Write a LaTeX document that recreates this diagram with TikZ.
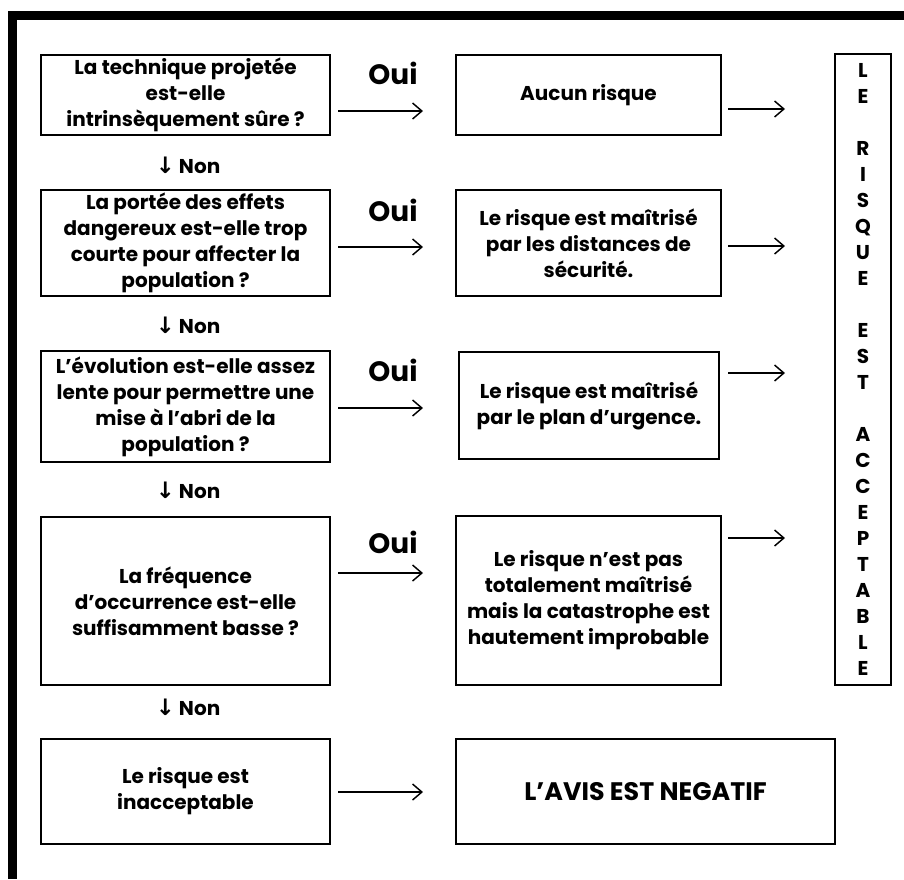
\documentclass[tikz,border=0pt]{standalone}
\usepackage{fontspec}
\setmainfont{Poppins}
\newfontfamily\arrowfont{DejaVu Sans}
\usetikzlibrary{arrows.meta}

\begin{document}
\begin{tikzpicture}[x=0.75pt, y=-0.75pt, >={Straight Barb[length=7pt,width=12pt]},
    box/.style={draw, line width=1pt, align=center, inner sep=0pt, font=\fontsize{15}{19.5}\selectfont\bfseries},
    oui/.style={font=\fontsize{21}{25}\selectfont\bfseries},
    non/.style={font=\fontsize{15}{18}\selectfont\bfseries},
    fl/.style={->, line width=1.1pt}]
    \useasboundingbox (0,0) rectangle (904,879);
    % cadre epais
    \fill (8,11) rectangle (904,20);
    \fill (8,11) rectangle (17,879);

    % questions
    \node[box, minimum width=216.75pt, minimum height=60pt] (q1) at (185.5,95) {La technique projetée\\est-elle\\intrinsèquement sûre ?};
    \node[box, minimum width=216.75pt, minimum height=79.5pt] (q2) at (185.5,243) {La portée des effets\\dangereux est-elle trop\\courte pour affecter la\\population ?};
    \node[box, minimum width=216.75pt, minimum height=83.25pt] (q3) at (185.5,406.5) {L’évolution est-elle assez\\lente pour permettre une\\mise à l’abri de la\\population ?};
    \node[box, minimum width=216.75pt, minimum height=126pt] (q4) at (185.5,601) {La fréquence\\d’occurrence est-elle\\suffisamment basse ?};
    \node[box, minimum width=216.75pt, minimum height=78.75pt] (q5) at (185.5,791.5) {Le risque est\\inacceptable};

    % reponses
    \node[box, minimum width=198.75pt, minimum height=60pt] (m1) at (588.5,95) {Aucun risque};
    \node[box, minimum width=198.75pt, minimum height=79.5pt] (m2) at (588.5,243) {Le risque est maîtrisé\\par les distances de\\sécurité.};
    \node[box, minimum width=195pt, minimum height=80.25pt] (m3) at (589,405.5) {Le risque est maîtrisé\\par le plan d’urgence.};
    \node[box, minimum width=198.75pt, minimum height=126.75pt] (m4) at (588.5,600.5) {Le risque n’est pas\\totalement maîtrisé\\mais la catastrophe est\\hautement improbable};
    \node[box, minimum width=284.25pt, minimum height=78.75pt, font=\fontsize{19}{23}\selectfont\bfseries] (avis) at (645.5,791.5) {L’AVIS EST NEGATIF};

    % colonne verticale
    \node[box, minimum width=42pt, minimum height=473.25pt] (acc) at (863,369.5) {L\\E\\~\\R\\I\\S\\Q\\U\\E\\~\\E\\S\\T\\~\\A\\C\\C\\E\\P\\T\\A\\B\\L\\E};

    % etiquettes
    \foreach \y [count=\i] in {73,210,370,542}
        \node[oui] (oui\i) at (393,\y) {Oui};
    \foreach \y [count=\i] in {165,325,490,707}
        \node[non] (non\i) at (188,\y) {{\arrowfont\fontsize{17}{18}\selectfont ↓} Non};

    % fleches
    \foreach \y [count=\i] in {111,247,408,573,792} {
        \coordinate (oa\i) at (338,\y);
        \coordinate (ob\i) at (423,\y);
        \draw[fl] (oa\i) -- (ob\i);
    }
    \foreach \y [count=\i] in {109,246,373,538} {
        \coordinate (ra\i) at (728,\y);
        \coordinate (rb\i) at (785,\y);
        \draw[fl] (ra\i) -- (rb\i);
    }
\end{tikzpicture}
\end{document}
